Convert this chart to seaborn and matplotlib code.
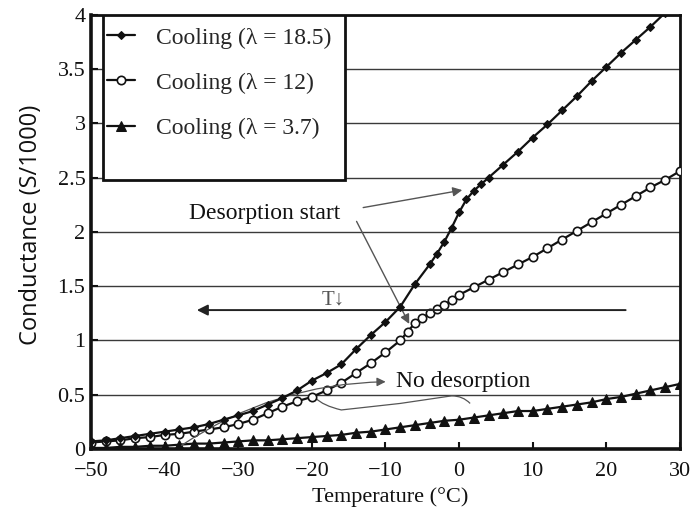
import numpy as np
import pandas as pd
import matplotlib
matplotlib.use("Agg")
import matplotlib.pyplot as plt
from matplotlib.path import Path
from matplotlib.patches import PathPatch, Rectangle
import seaborn as sns

# ---- data ----
temp_a = [-50, -48, -46, -44, -42, -40, -38, -36, -34, -32, -30, -28, -26, -24, -22, -20,
          -18, -16, -14, -12, -10, -8, -6, -4, -3, -2, -1, 0, 1, 2, 3, 4, 6, 8, 10, 12,
          14, 16, 18, 20, 22, 24, 26, 28]
cond_a = [0.07, 0.08, 0.10, 0.12, 0.14, 0.16, 0.18, 0.20, 0.23, 0.27, 0.31, 0.35, 0.41, 0.47, 0.54, 0.63,
          0.70, 0.78, 0.92, 1.05, 1.17, 1.31, 1.52, 1.70, 1.80, 1.91, 2.04, 2.18, 2.30, 2.38, 2.44, 2.50,
          2.62, 2.74, 2.87, 2.99, 3.12, 3.25, 3.39, 3.52, 3.65, 3.77, 3.89, 4.02]

temp_b = [-50, -48, -46, -44, -42, -40, -38, -36, -34, -32, -30, -28, -26, -24, -22, -20,
          -18, -16, -14, -12, -10, -8, -7, -6, -5, -4, -3, -2, -1, 0, 2, 4, 6, 8, 10, 12,
          14, 16, 18, 20, 22, 24, 26, 28, 30]
cond_b = [0.06, 0.07, 0.08, 0.10, 0.11, 0.13, 0.14, 0.16, 0.18, 0.20, 0.23, 0.27, 0.33, 0.39, 0.44, 0.48,
          0.54, 0.61, 0.70, 0.79, 0.89, 1.00, 1.08, 1.16, 1.21, 1.25, 1.29, 1.33, 1.37, 1.42, 1.49, 1.56,
          1.63, 1.70, 1.77, 1.85, 1.93, 2.01, 2.09, 2.17, 2.25, 2.33, 2.41, 2.48, 2.56]

temp_c = [-50, -48, -46, -44, -42, -40, -38, -36, -34, -32, -30, -28, -26, -24, -22, -20,
          -18, -16, -14, -12, -10, -8, -6, -4, -2, 0, 2, 4, 6, 8, 10, 12, 14, 16, 18, 20,
          22, 24, 26, 28, 30]
cond_c = [0.01, 0.01, 0.02, 0.02, 0.03, 0.03, 0.04, 0.05, 0.05, 0.06, 0.07, 0.08, 0.08, 0.09, 0.10, 0.11,
          0.12, 0.13, 0.15, 0.16, 0.18, 0.20, 0.22, 0.24, 0.26, 0.27, 0.29, 0.31, 0.33, 0.35, 0.35, 0.37,
          0.39, 0.41, 0.43, 0.46, 0.48, 0.51, 0.54, 0.57, 0.60]

labels = ["Cooling (\u03bb = 18.5)", "Cooling (\u03bb = 12)", "Cooling (\u03bb = 3.7)"]
x_ticks = [-50, -40, -30, -20, -10, 0, 10, 20, 30]
y_ticks = [0, 0.5, 1, 1.5, 2, 2.5, 3, 3.5, 4]
y_tick_labels = ["0", "0.5", "1", "1.5", "2", "2.5", "3", "3.5", "4"]

# ---- style ----
sns.set_style("white")
plt.rcParams["font.family"] = ["Liberation Serif", "DejaVu Serif"]

fig = plt.figure(figsize=(6.91, 5.12), dpi=100)
ax = fig.add_axes([0.1317, 0.123, 0.8523, 0.848])

ink = "#111111"
sns.lineplot(x=temp_a, y=cond_a, ax=ax, color=ink, lw=1.6, marker="D", markersize=4.5,
             markeredgecolor=ink, markerfacecolor=ink, label=labels[0], zorder=4)
sns.lineplot(x=temp_b, y=cond_b, ax=ax, color=ink, lw=1.6, marker="o", markersize=6,
             markeredgecolor=ink, markerfacecolor="white", markeredgewidth=1.2,
             label=labels[1], zorder=3)
sns.lineplot(x=temp_c, y=cond_c, ax=ax, color=ink, lw=1.6, marker="^", markersize=7,
             markeredgecolor=ink, markerfacecolor=ink, label=labels[2], zorder=3)

ax.set_xlim(-50, 30)
ax.set_ylim(0, 4)
ax.set_xticks(x_ticks)
ax.set_yticks(y_ticks)
ax.set_yticklabels(y_tick_labels)
ax.xaxis.set_major_formatter(matplotlib.ticker.FuncFormatter(
    lambda v, p: ("\u2212%d" % abs(v)) if v < 0 else "%d" % v))

ax.yaxis.grid(True, color="#3a3a3a", lw=1.0)
ax.xaxis.grid(False)
ax.set_axisbelow(True)
for s in ax.spines.values():
    s.set_color(ink)
    s.set_linewidth(2.0)
ax.spines["left"].set_linewidth(2.6)
ax.spines["bottom"].set_linewidth(2.6)
ax.tick_params(axis="both", direction="in", length=5, width=1.5, colors=ink,
               labelsize=16, left=True, bottom=True)
ax.tick_params(axis="x", pad=9)
ax.tick_params(axis="y", pad=4)

ax.set_xlabel("Temperature (\u00b0C)", fontsize=16, color=ink)
ax.xaxis.set_label_coords((390 - 91) / 589, (449 - 487) / 434)
ax.set_ylabel("Conductance (S/1000)", fontsize=17, color=ink,
              family=["Open Sans", "DejaVu Sans"])
ax.yaxis.set_label_coords((43 - 91) / 589, (449 - 225) / 434)

# legend: entries without frame, box drawn to the reference's extent
leg = ax.legend(loc="upper left", bbox_to_anchor=(0.027, 0.972),
                fontsize=17, frameon=False,
                labelspacing=1.0, handlelength=1.2, handletextpad=0.9,
                borderpad=0.0, borderaxespad=0.0)
leg.set_zorder(6)
ax.add_patch(Rectangle((0.02, 0.62), 0.411, 0.38, transform=ax.transAxes,
                       facecolor="white", edgecolor=ink, lw=2.0, zorder=5))

# ---- annotations ----
gray = "#555555"
ax.text(-26.4, 2.17, "Desorption start", fontsize=17, color=ink, ha="center", va="center")
ax.annotate("", xy=(0.8, 2.39), xytext=(-13.4, 2.22),
            arrowprops=dict(arrowstyle="-|>", color=gray, lw=1.0, mutation_scale=14))
ax.annotate("", xy=(-6.6, 1.13), xytext=(-14.1, 2.12),
            arrowprops=dict(arrowstyle="-|>", color=gray, lw=1.0, mutation_scale=14))

ax.annotate("", xy=(-36.0, 1.28), xytext=(23.0, 1.28),
            arrowprops=dict(arrowstyle="-|>", color="#222222", lw=1.4, mutation_scale=16))
ax.text(-17.1, 1.37, "T\u2193", fontsize=15, color=gray, ha="center", va="center")

ax.text(-8.6, 0.62, "No desorption", fontsize=17, color=ink, ha="left", va="center")
ax.annotate("", xy=(-9.6, 0.62), xytext=(-38.0, 0.02),
            arrowprops=dict(arrowstyle="-|>", color=gray, lw=0.9, mutation_scale=13,
                            connectionstyle="arc3,rad=-0.15"))
brace = Path([(-19.5, 0.47), (-18.5, 0.40), (-16.0, 0.36), (-8.0, 0.42),
              (-1.0, 0.49), (0.5, 0.49), (1.5, 0.42)],
             [Path.MOVETO, Path.CURVE3, Path.CURVE3, Path.LINETO,
              Path.LINETO, Path.CURVE3, Path.CURVE3])
ax.add_patch(PathPatch(brace, facecolor="none", edgecolor=gray, lw=0.9, zorder=2))

fig.savefig("out.png", dpi=100)
